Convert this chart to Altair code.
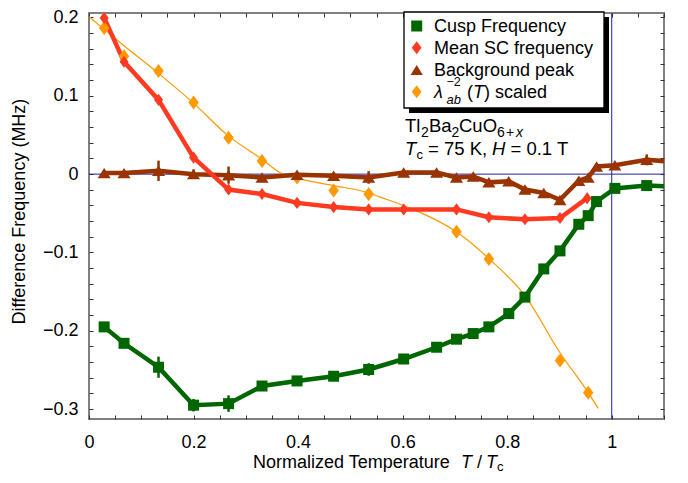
import altair as alt
import pandas as pd

# ---------------- data ----------------
series_names = ["Cusp Frequency", "Mean SC frequency", "Background peak", "lambda"]

cusp_x = [0.029, 0.067, 0.133, 0.200, 0.267, 0.331, 0.398, 0.468, 0.535, 0.602, 0.665, 0.703,
          0.735, 0.765, 0.803, 0.834, 0.870, 0.901, 0.937, 0.955, 0.971, 1.006, 1.067, 1.133]
cusp_y = [-0.195, -0.216, -0.2465, -0.295, -0.293, -0.2705, -0.264, -0.258, -0.2494, -0.236, -0.221, -0.2107,
          -0.2035, -0.195, -0.178, -0.157, -0.121, -0.098, -0.064, -0.053, -0.035, -0.0182, -0.0146, -0.0165]
cusp_err = [0, 0, 0.0135, 0.008, 0.0105, 0, 0, 0, 0.008, 0, 0, 0,
            0, 0, 0, 0, 0, 0, 0, 0, 0, 0, 0, 0]

sc_x = [0.029, 0.067, 0.133, 0.200, 0.267, 0.331, 0.398, 0.468, 0.535, 0.602, 0.703, 0.765, 0.834, 0.901, 0.953]
sc_y = [0.1994, 0.1434, 0.0948, 0.0211, -0.0197, -0.0253, -0.0367, -0.0421, -0.045, -0.045, -0.045,
        -0.0551, -0.0577, -0.056, -0.0307]

bg_x = [0.029, 0.067, 0.133, 0.200, 0.267, 0.331, 0.398, 0.468, 0.535, 0.602, 0.665, 0.703,
        0.735, 0.765, 0.803, 0.834, 0.870, 0.901, 0.937, 0.955, 0.971, 1.006, 1.067, 1.133]
bg_y = [0.0013, 0.0013, 0.0043, 0.0, -0.0013, -0.0042, -0.0008, -0.002, -0.0042, 0.0021, 0.0021, -0.0042,
        -0.0029, -0.0105, -0.0092, -0.0197, -0.024, -0.0329, -0.0084, -0.0042, 0.0097, 0.0114, 0.0182, 0.015]
bg_err = [0, 0.003, 0.013, 0.006, 0.011, 0, 0, 0, 0.008, 0, 0, 0.004,
          0.004, 0, 0, 0, 0, 0, 0, 0, 0, 0, 0.007, 0]

lam_x = [0.029, 0.067, 0.133, 0.200, 0.267, 0.331, 0.398, 0.468, 0.535, 0.703, 0.765, 0.901, 0.955]
lam_y = [0.1867, 0.1504, 0.1315, 0.0915, 0.0464, 0.0169, -0.0042, -0.021, -0.0253, -0.0737, -0.1082, -0.238, -0.279]

fit_x = [0.0, 0.067, 0.133, 0.200, 0.267, 0.331, 0.365, 0.398, 0.468, 0.535, 0.556, 0.620, 0.703,
         0.765, 0.834, 0.901, 0.955, 0.974]
fit_y = [0.201, 0.164, 0.1286, 0.0906, 0.0485, 0.019, 0.002, -0.005, -0.0147, -0.024, -0.029, -0.045, -0.0737,
         -0.108, -0.155, -0.228, -0.279, -0.299]

x_ticks = [round(0.05 * i, 2) for i in range(23)]
y_ticks = [round(-0.3 + 0.02 * i, 2) for i in range(26)]

# ---------------- styling ----------------
FONT = "Liberation Sans"
GREEN, RED, BROWN, ORANGE = "#006600", "#ff3a21", "#993300", "#ff9900"
BLUE = "#1f1fa0"
colors = [GREEN, RED, BROWN, ORANGE]
DIAMOND = "M0,-1L0.75,0L0,1L-0.75,0Z"
TRI = "M0,-0.8L1,0.8L-1,0.8Z"
shapes = ["square", DIAMOND, TRI, DIAMOND]
sizes = [121, 196, 150, 180]

W, H = 575, 406
XS = alt.Scale(domain=[0, 1.1], nice=False, zero=False)
YS = alt.Scale(domain=[-0.3126, 0.2057], nice=False, zero=False)


def xy(xf="x", yf="y"):
    return dict(x=alt.X(f"{xf}:Q", scale=XS, axis=None), y=alt.Y(f"{yf}:Q", scale=YS, axis=None))


one = pd.DataFrame({"a": [0]})

# tables
cusp_df = pd.DataFrame({"x": cusp_x, "y": cusp_y, "err": cusp_err, "series": series_names[0]})
sc_df = pd.DataFrame({"x": sc_x, "y": sc_y, "err": 0.0, "series": series_names[1]})
bg_df = pd.DataFrame({"x": bg_x, "y": bg_y, "err": bg_err, "series": series_names[2]})
lam_df = pd.DataFrame({"x": lam_x, "y": lam_y, "err": 0.0, "series": series_names[3]})
fit_df = pd.DataFrame({"x": fit_x, "y": fit_y})

pts = pd.concat([lam_df, bg_df, sc_df, cusp_df], ignore_index=True)
err_df = pts[pts["err"] > 0].copy()
err_df["lo"] = err_df["y"] - err_df["err"]
err_df["hi"] = err_df["y"] + err_df["err"]

layers = []

# reference lines
layers.append(alt.Chart(pd.DataFrame({"v": [0.0]})).mark_rule(color=BLUE, strokeWidth=1).encode(
    y=alt.Y("v:Q", scale=YS, axis=None)))
layers.append(alt.Chart(pd.DataFrame({"v": [1.0]})).mark_rule(color=BLUE, strokeWidth=1).encode(
    x=alt.X("v:Q", scale=XS, axis=None)))

# lambda fit curve
layers.append(alt.Chart(fit_df).mark_line(color=ORANGE, strokeWidth=1.2, interpolate="monotone", clip=True)
              .encode(**xy()))

# error bars
layers.append(alt.Chart(err_df).mark_rule(strokeWidth=2.5, clip=True).encode(
    x=alt.X("x:Q", scale=XS, axis=None),
    y=alt.Y("lo:Q", scale=YS, axis=None),
    y2="hi:Q",
    stroke=alt.Stroke("series:N", scale=alt.Scale(domain=series_names, range=colors), legend=None)))

# connecting lines
for df, col in [(bg_df, BROWN), (sc_df, RED), (cusp_df, GREEN)]:
    layers.append(alt.Chart(df).mark_line(color=col, strokeWidth=4.5, clip=True).encode(**xy()))

# points
layers.append(alt.Chart(pts).mark_point(filled=True, opacity=1, clip=True).encode(
    x=alt.X("x:Q", scale=XS, axis=None),
    y=alt.Y("y:Q", scale=YS, axis=None),
    color=alt.Color("series:N", scale=alt.Scale(domain=series_names, range=colors), legend=None),
    shape=alt.Shape("series:N", scale=alt.Scale(domain=series_names, range=shapes), legend=None),
    size=alt.Size("series:N", scale=alt.Scale(domain=series_names, range=sizes), legend=None),
))

# ---------------- legend (box with drop shadow, symbols, labels) ----------------
layers.append(alt.Chart(one).mark_rect(color="black").encode(
    x=alt.value(320), x2=alt.value(520), y=alt.value(4), y2=alt.value(100)))
layers.append(alt.Chart(one).mark_rect(fill="white", stroke="black", strokeWidth=1.3).encode(
    x=alt.value(315), x2=alt.value(515), y=alt.value(-1), y2=alt.value(95)))

legend_rows_y = [13, 34.7, 57, 78.7]
legend_sizes = [121, 169, 150, 169]
for i in range(4):
    layers.append(alt.Chart(one).mark_point(filled=True, opacity=1, shape=shapes[i], size=legend_sizes[i],
                                            color=colors[i])
                  .encode(x=alt.value(327.7), y=alt.value(legend_rows_y[i])))

# text pieces: (text, x, y, size, italic)
pieces = [
    # legend labels
    ("Cusp Frequency", 345, 19.3, 18, False),
    ("Mean SC frequency", 345, 41, 18, False),
    ("Background peak", 345, 63.3, 18, False),
    ("λ", 345, 85, 18, True),
    ("ab", 357.5, 90.5, 13, True),
    ("\u22122", 357.5, 72.5, 12.5, False),
    ("(", 378, 85, 18, False),
    ("T", 384, 85, 18, True),
    (") scaled", 395, 85, 18, False),
    # sample annotation, line 1
    ("Tl", 316, 119, 18.5, False),
    ("2", 332, 123.5, 14, False),
    ("Ba", 340, 119, 18.5, False),
    ("2", 362.5, 123.5, 14, False),
    ("CuO", 370, 119, 18.5, False),
    ("6", 408, 123.5, 14, False),
    ("+", 417, 123.5, 14, False),
    ("x", 427, 123.5, 14, True),
    # sample annotation, line 2
    ("T", 316, 142, 18.5, True),
    ("c", 327.5, 146, 13, False),
    ("= 75 K,", 339, 142, 18.5, False),
    ("H", 403, 142, 18.5, True),
    ("= 0.1 T", 421.5, 142, 18.5, False),
    # x-axis title
    ("Normalized Temperature", 164, 455, 18, False),
    ("T", 372, 455, 18, True),
    ("/", 388, 455, 18, False),
    ("T", 397, 455, 18, True),
    ("c", 408, 458, 13, False),
]
for t, px, py, fs, it in pieces:
    layers.append(alt.Chart(one).mark_text(text=t, align="left", baseline="alphabetic", font=FONT,
                                           fontSize=fs, fontStyle="italic" if it else "normal",
                                           color="black")
                  .encode(x=alt.value(px), y=alt.value(py)))


# axis layers (ticks pointing inward on all four sides)
def axis_layer(xaxis, yaxis):
    return alt.Chart(cusp_df).mark_point(opacity=0).encode(
        x=alt.X("x:Q", scale=XS, axis=xaxis), y=alt.Y("y:Q", scale=YS, axis=yaxis))


xlab = "round(datum.value*100) % 20 == 0 ? datum.label : ''"
ylab = "abs(round(datum.value*100)) % 10 == 0 ? datum.label : ''"
layers.append(axis_layer(
    alt.Axis(orient="bottom", values=x_ticks, format="~g", labelExpr=xlab, ticks=False, tickSize=0,
             domain=False, grid=False, labelPadding=14, labelFontSize=18, title=None,
             labelFlush=False, labelOverlap=False),
    alt.Axis(orient="left", values=y_ticks, format="~g", labelExpr=ylab, ticks=False, tickSize=0,
             domain=False, grid=False, labelPadding=11, labelFontSize=18, labelFlush=False,
             labelOverlap=False, title="Difference Frequency (MHz)", titleFontSize=18,
             titleFontWeight="normal", titleX=-70, titleY=198, titleAngle=270,
             titleBaseline="middle", titleAlign="center")))
layers.append(axis_layer(
    alt.Axis(orient="top", offset=-H, values=x_ticks, labels=False, tickSize=4, domain=False,
             grid=False, title=None),
    alt.Axis(orient="right", offset=-W, values=y_ticks, labels=False, tickSize=4, domain=False,
             grid=False, title=None)))
layers.append(axis_layer(
    alt.Axis(orient="bottom", offset=-H, values=x_ticks, labels=False, tickSize=4, domain=False,
             grid=False, title=None),
    alt.Axis(orient="left", offset=-W, values=y_ticks, labels=False, tickSize=4, domain=False,
             grid=False, title=None)))

chart = (alt.layer(*layers)
         .resolve_axis(x="independent", y="independent")
         .properties(width=W, height=H,
                     padding={"left": 81, "top": 5, "right": 10, "bottom": 56},
                     autosize=alt.AutoSizeParams(type="none"), background="white")
         .configure_view(stroke="#808080", strokeWidth=2)
         .configure_axis(labelFont=FONT, titleFont=FONT, labelColor="black", titleColor="black",
                         tickColor="#333333", tickWidth=1))

chart.save("out.html", embed_options={"renderer": "svg", "actions": False})
